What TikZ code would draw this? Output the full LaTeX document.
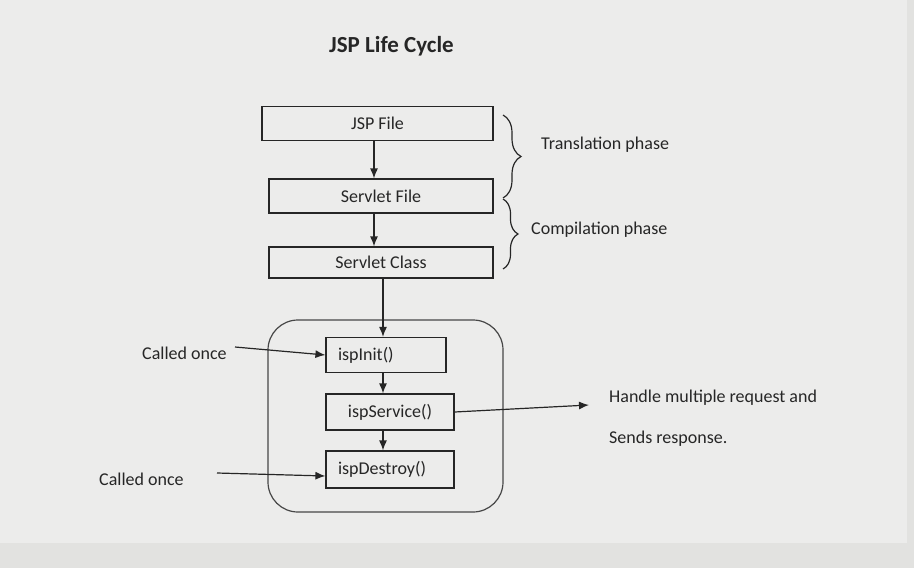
\documentclass[tikz,border=0pt]{standalone}
\usepackage{fontspec}
\setmainfont{Carlito}
\usepackage{tikz}
\usetikzlibrary{arrows.meta,positioning,decorations.pathreplacing}
\definecolor{bgpanel}{HTML}{ECECEB}
\definecolor{bgstrip}{HTML}{E2E2E0}
\definecolor{ink}{HTML}{262626}

\begin{document}
\begin{tikzpicture}[x=1pt, y=-1pt,
    font=\fontsize{18}{22}\selectfont, text=ink,
    box/.style={draw=ink, line width=1.2pt, minimum height=34pt, inner sep=0pt},
    fnbox/.style={draw=ink, line width=1.2pt, minimum height=35pt, inner xsep=12pt, inner ysep=0pt},
    lbl/.style={anchor=base west, inner sep=0pt},
    arr/.style={draw=ink, line width=1.2pt, -{Latex[length=10pt,width=8pt]}},
    brace/.style={draw=ink, line width=1.2pt, decorate}
  ]
    % background
    \fill[bgstrip] (0,0) rectangle (914,568);
    \fill[bgpanel] (0,0) rectangle (907,543);
    \useasboundingbox (0,0) rectangle (914,568);

    \node[lbl, font=\fontsize{23}{27}\selectfont\bfseries] (title) at (329,52) {JSP Life Cycle};

    % translation and compilation
    \node[box, minimum width=231pt] (jsp) at (377.5,123.5) {JSP File};
    \node[box, minimum width=224pt] (sfile) at (381,196) {Servlet File};
    \node[box, minimum width=224pt, minimum height=31pt] (sclass) at (381,262.5) {Servlet Class};
    \draw[arr] ([xshift=-7pt]sfile.north |- jsp.south) -- ([xshift=-7pt]sfile.north);
    \draw[arr] ([xshift=-7pt]sfile.south) -- ([xshift=-7pt]sclass.north);

    \draw[brace, decoration={brace, amplitude=18pt}] (503,115) -- (503,198);
    \draw[brace, decoration={brace, amplitude=15pt}] (503,199) -- (503,269);
    \node[lbl] (trans) at (541,149) {Translation phase};
    \node[lbl] (comp) at (531,234) {Compilation phase};

    % life cycle methods
    \node[draw=ink!85, line width=1.2pt, rounded corners=30pt, minimum width=235pt, minimum height=192pt] (life) at (385.5,416) {};
    \node[fnbox, text width=96pt, align=left] (init) at (386,355) {ispInit()};
    \node[fnbox, minimum width=128pt, minimum height=36pt] (service) at (390,412) {ispService()};
    \node[fnbox, text width=104pt, align=left, minimum height=37pt] (destroy) at (390,469.5) {ispDestroy()};
    \draw[arr] ([xshift=2pt]sclass.south) -- ([xshift=2pt]sclass.south |- init.north);
    \draw[arr] ([xshift=-3pt]init.south) -- ([xshift=-3pt]init.south |- service.north);
    \draw[arr] ([xshift=-7pt]service.south) -- ([xshift=-7pt]destroy.north);

    \node[lbl] (called1) at (142,359) {Called once};
    \node[lbl] (called2) at (99,485) {Called once};
    \coordinate (c1) at (235,347);
    \coordinate (c2) at (217,473);
    \draw[arr] (c1) -- (init.west);
    \draw[arr] (c2) -- (destroy.west |- 0,476);

    \node[lbl] (handle) at (609,402) {Handle multiple request and};
    \node[lbl] (sends) at (609,443) {Sends response.};
    \coordinate (srvtip) at (589,405);
    \draw[arr] (service.east) -- (srvtip);
  \end{tikzpicture}
\end{document}
